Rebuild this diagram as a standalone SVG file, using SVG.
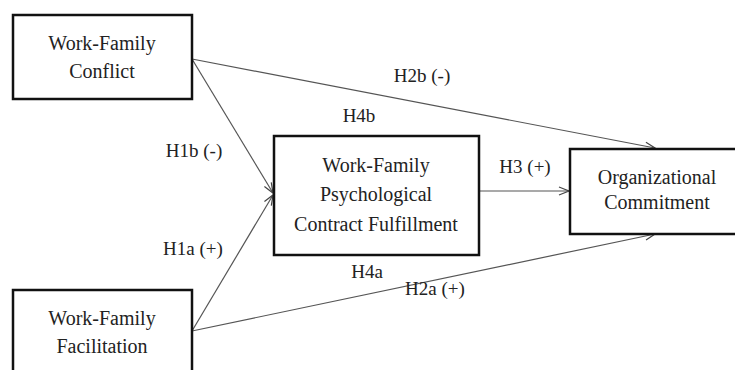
<svg xmlns="http://www.w3.org/2000/svg" width="735" height="370" viewBox="0 0 735 370">
<style>
.box{fill:#fff;stroke:#111;stroke-width:2.5}
.t{font-family:'Liberation Serif','DejaVu Serif',serif;font-size:20px;fill:#222;text-anchor:middle}
.l{font-family:'Liberation Serif','DejaVu Serif',serif;font-size:19px;fill:#222;text-anchor:middle}
.c{stroke:#555;stroke-width:1.2;fill:none;marker-end:url(#ah)}
</style>
<defs>
<marker id="ah" viewBox="0 0 12 10" refX="11" refY="5" markerWidth="12" markerHeight="10" markerUnits="userSpaceOnUse" orient="auto">
<path d="M1,1 L11,5 L1,9" fill="none" stroke="#444" stroke-width="1.2"/>
</marker>
</defs>
<g id="connectors">
<line class="c" x1="192" y1="59" x2="273" y2="193"/>
<line class="c" x1="192" y1="331" x2="273" y2="195"/>
<line class="c" x1="192" y1="59" x2="655" y2="148"/>
<line class="c" x1="192" y1="331" x2="655" y2="234"/>
<line class="c" x1="479" y1="191" x2="569" y2="191"/>
</g>
<g id="wfc">
<rect class="box" x="13" y="15" width="179" height="84"/>
<text class="t" x="102" y="50">Work-Family</text>
<text class="t" x="102" y="78">Conflict</text>
</g>
<g id="wff">
<rect class="box" x="13" y="290" width="179" height="90"/>
<text class="t" x="102" y="325">Work-Family</text>
<text class="t" x="102" y="353">Facilitation</text>
</g>
<g id="wfpcf">
<rect class="box" x="274" y="136" width="205" height="119"/>
<text class="t" x="376" y="172">Work-Family</text>
<text class="t" x="376" y="201">Psychological</text>
<text class="t" x="376" y="231">Contract Fulfillment</text>
</g>
<g id="oc">
<rect class="box" x="570" y="149" width="180" height="85"/>
<text class="t" x="657" y="184">Organizational</text>
<text class="t" x="657" y="209">Commitment</text>
</g>
<g id="labels">
<text class="l" x="422" y="82">H2b (-)</text>
<text class="l" x="359" y="122">H4b</text>
<text class="l" x="194" y="157">H1b (-)</text>
<text class="l" x="193" y="255">H1a (+)</text>
<text class="l" x="367" y="278">H4a</text>
<text class="l" x="435" y="295">H2a (+)</text>
<text class="l" x="525" y="173">H3 (+)</text>
</g>
</svg>
